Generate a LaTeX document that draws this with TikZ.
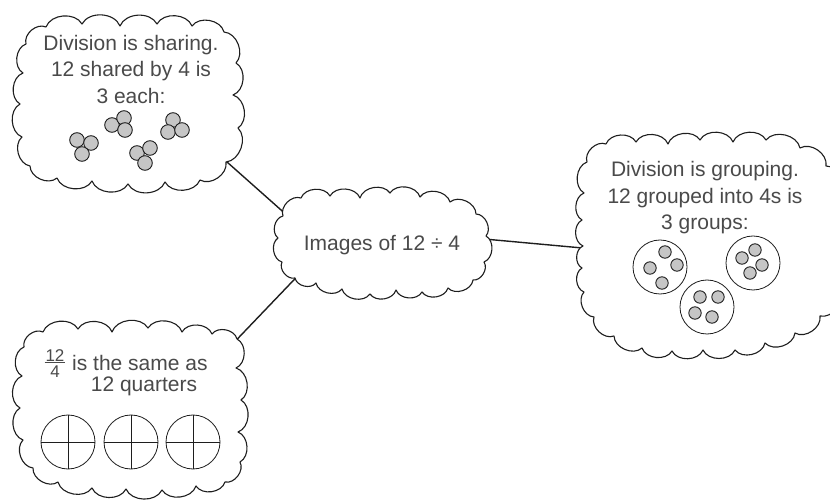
\documentclass[tikz,border=0pt]{standalone}
\usepackage{fontspec}
\setmainfont{Liberation Sans}
\definecolor{ink}{HTML}{1E1E1E}
\definecolor{txt}{HTML}{4A4A4A}
\definecolor{counter}{HTML}{C6C6C6}
\begin{document}
\begin{tikzpicture}[x=1pt,y=-1pt,
  core/.style={rectangle, draw=none, inner sep=0pt},
  puffline/.style={draw=ink, line width=1.1pt, fill=white, line join=round},
  puff/.style={bend left=65},
  link/.style={draw=ink, line width=1.4pt},
  words/.style={text=txt, font=\fontsize{21}{26.5}\selectfont, align=center, inner sep=0pt},
  small/.style={text=txt, font=\fontsize{17}{17}\selectfont, inner sep=0.8pt},
  chip/.style={draw=ink, fill=counter, line width=0.9pt},
  ring/.style={draw=ink, line width=0.8pt},
]
\useasboundingbox (0,0) rectangle (830,502);
\clip (0,0) rectangle (830,502);

% named cores of the four clouds
\node[core, minimum width=180pt, minimum height=120pt] (share) at (129,103) {};
\node[core, minimum width=160pt, minimum height=70pt] (hub) at (382,244) {};
\node[core, minimum width=200pt, minimum height=160pt] (group) at (710,247) {};
\node[core, minimum width=180pt, minimum height=120pt] (quart) at (130,409) {};

% connectors (their inner ends are hidden under the clouds)
\draw[link] (share.-30.8) -- (hub.169.9);
\draw[link] (hub.5.1) -- (group.-178.3);
\draw[link] (hub.-161.5) -- (quart.30.7);

% cloud outlines: puffs between successive dents
\filldraw[puffline] (26,44) foreach \px/\py in {46/27, 82/24, 120/26, 157/24, 192/26,
    224/32, 236/63, 233/95, 238/128, 226/162, 200/180, 165/182, 128/184, 92/181,
    57/178, 30/166, 22/137, 20/104, 23/73, 26/44} { to[puff] (\px,\py) } -- cycle;

\filldraw[puffline] (283,216) foreach \px/\py in {301/198, 330/196, 360/198, 390/193,
    420/197, 450/202, 476/214, 486/236, 484/262, 473/280, 448/288, 422/292, 396/290,
    370/294, 342/289, 316/283, 295/278, 282/262, 278/238, 283/216}
    { to[puff] (\px,\py) } -- cycle;

\filldraw[puffline] (587,162) foreach \px/\py in {606/144, 636/142, 668/144, 700/140,
    733/142, 766/140, 800/148, 826/166, 840/195, 845/240, 840/290, 820/316, 795/333,
    765/343, 735/350, 703/350, 672/351, 642/348, 614/336, 594/317, 584/292, 582/268,
    583/246, 582/220, 584/193, 587/162} { to[puff] (\px,\py) } -- cycle;

\filldraw[puffline] (24,347) foreach \px/\py in {43/332, 78/329, 112/332, 148/328,
    182/332, 212/334, 237/339, 236/368, 241/400, 238/432, 240/462, 225/482, 196/486,
    162/490, 126/489, 92/488, 58/482, 33/468, 23/440, 20/408, 22/376, 24/347}
    { to[puff] (\px,\py) } -- cycle;

% central label
\node[words] (hubtext) at (382,245) {Images of 12 \char"00F7{} 4};

% sharing cloud
\node[words] (sharetext) at (131,69) {Division is sharing.\\12 shared by 4 is\\3 each:};
\foreach \x/\y in {77/140, 91/143, 82/154,
                   112/125, 124/118, 125/130,
                   137/153, 150/148, 145/163,
                   173/120, 168/132, 182/130}
  \filldraw[chip] (\x,\y) circle (7.3);

% grouping cloud
\node[words] (grouptext) at (705,198) {Division is grouping.\\12 grouped into 4s is\\3 groups:};
\foreach \x/\y in {660/267, 753/263, 707/307}
  \draw[ring] (\x,\y) circle (27);
\foreach \x/\y in {665/252, 677/265, 650/268, 662/283,
                   755/250, 742/258, 762/265, 750/273,
                   700/297, 718/297, 695/313, 712/317}
  \filldraw[chip] (\x,\y) circle (6.2);

% quarters cloud
\node[small, anchor=south] (fnum) at (55,362.5) {12};
\node[small, anchor=north] (fden) at (55,365) {4};
\draw[txt, line width=0.8pt] (fnum.south west) -- (fnum.south east);
\node[words, anchor=west] (sametext) at (72,363) {is the same as};
\node[words] (qtext) at (144,386) {12 quarters};
\foreach \x in {68,131,193} {
  \draw[ring] (\x,442) circle (27);
  \draw[ring] (\x-27,442) -- (\x+27,442);
  \draw[ring] (\x,415) -- (\x,469);
}
\end{tikzpicture}
\end{document}
